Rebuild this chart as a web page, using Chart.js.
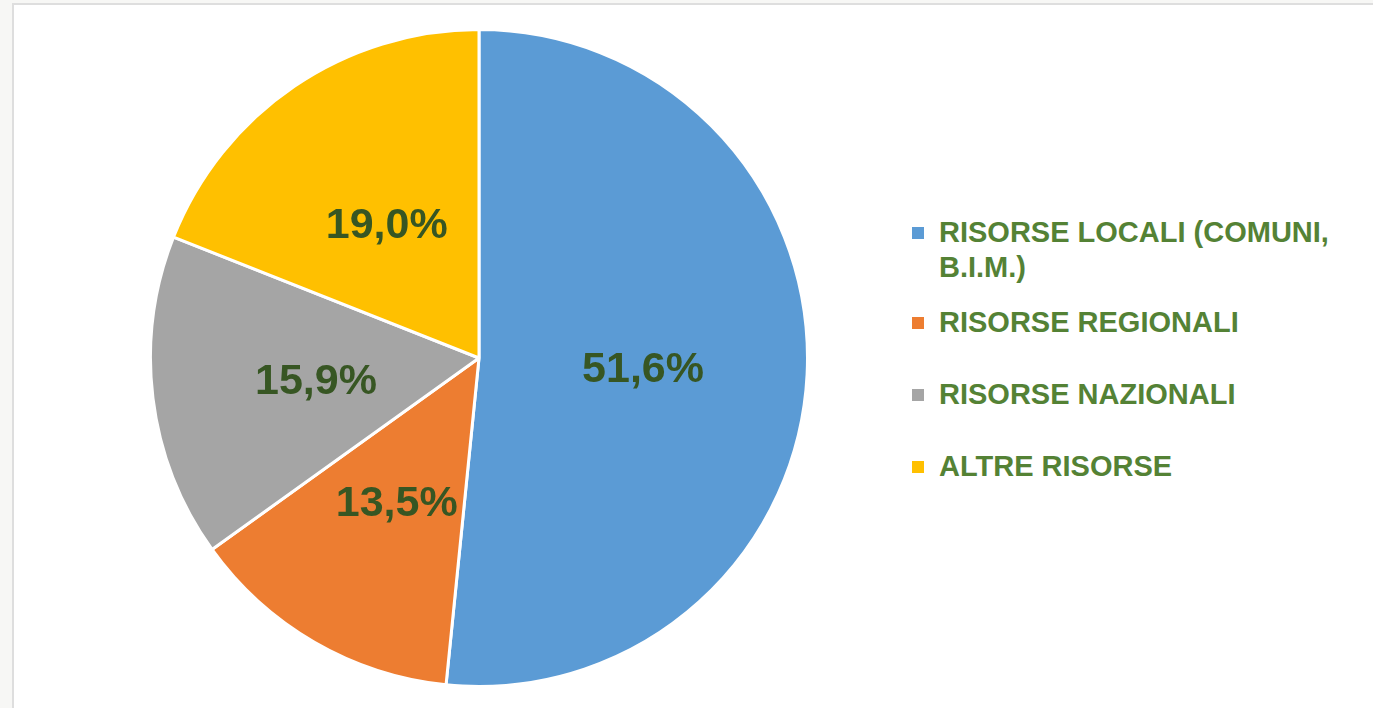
<!DOCTYPE html>
<html>
<head>
<meta charset="utf-8">
<script src="https://cdn.jsdelivr.net/npm/chart.js@4"></script>
<style>
    html, body { margin: 0; padding: 0; background: #f7f7f5; overflow: hidden; }
    body { width: 1373px; height: 708px; position: relative; font-family: 'Liberation Sans', Arial, sans-serif; }
    .card { position: absolute; left: 12px; top: 3px; width: 1400px; height: 760px; background: #fff; border: 2px solid #dedede; }
    .pie-wrap { position: absolute; left: 147px; top: 26px; width: 664px; height: 664px; }
    .legend { position: absolute; left: 912px; top: 214px; width: 450px; }
    .legend-item { height: 72px; display: flex; align-items: center; }
    .legend-row { display: flex; align-items: flex-start; }
    .legend-box { width: 12px; height: 12px; margin-top: 12px; margin-right: 15px; flex: none; }
    .legend-text { width: 410px; font-size: 29px; line-height: 35px; font-weight: bold; color: #548235; }
</style>
</head>
<body>
<div class="card"></div>
<div class="pie-wrap"><canvas id="pieChart"></canvas></div>
<div class="legend" id="legend"></div>

<script>
// Data
const categories = ['RISORSE LOCALI (COMUNI, B.I.M.)', 'RISORSE REGIONALI', 'RISORSE NAZIONALI', 'ALTRE RISORSE'];
const shares = [51.6, 13.5, 15.9, 19.0];
const sliceColors = ['#5b9bd5', '#ed7d31', '#a5a5a5', '#ffc000'];

// Percent labels drawn at the middle of each slice
const sliceLabels = {
    id: 'sliceLabels',
    afterDatasetsDraw(chart) {
        const ctx = chart.ctx;
        const meta = chart.getDatasetMeta(0);
        ctx.save();
        ctx.font = 'bold 43px "Liberation Sans", Arial, sans-serif';
        ctx.fillStyle = '#375623';
        ctx.textAlign = 'center';
        ctx.textBaseline = 'alphabetic';
        meta.data.forEach((arc, i) => {
            const pos = arc.tooltipPosition();
            ctx.fillText(shares[i].toFixed(1).replace('.', ',') + '%', pos.x, pos.y + 16);
        });
        ctx.restore();
    }
};

new Chart(document.getElementById('pieChart'), {
    type: 'pie',
    data: {
        labels: categories,
        datasets: [{
            data: shares,
            backgroundColor: sliceColors,
            borderColor: '#ffffff',
            borderWidth: 3
        }]
    },
    options: {
        responsive: true,
        maintainAspectRatio: false,
        animation: false,
        layout: { padding: 2 },
        plugins: {
            legend: { display: false },
            tooltip: { enabled: false }
        }
    },
    plugins: [sliceLabels]
});

// HTML legend on the right
const legend = document.getElementById('legend');
categories.forEach((name, i) => {
    const item = document.createElement('div');
    item.className = 'legend-item';
    item.innerHTML = '<div class="legend-row"><div class="legend-box" style="background:' + sliceColors[i] +
        '"></div><div class="legend-text">' + name + '</div></div>';
    legend.appendChild(item);
});
</script>
</body>
</html>
